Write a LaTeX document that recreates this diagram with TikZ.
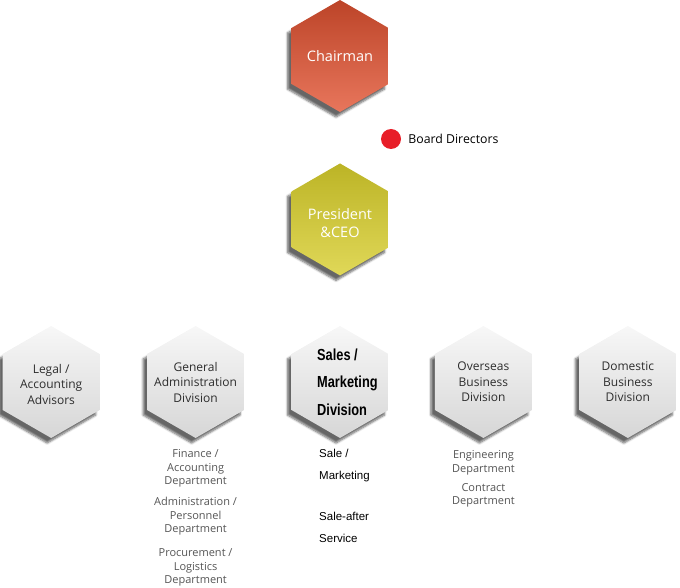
\documentclass[tikz,border=0pt]{standalone}
\usepackage{fontspec}
\setmainfont{Open Sans}
\newfontfamily\salesfont[FakeStretch=0.8]{Liberation Sans}
\newfontfamily\arialfont{Liberation Sans}
\usetikzlibrary{shapes.geometric, positioning, shadows.blur}
\definecolor{chairtop}{RGB}{188,68,40}
\definecolor{chairbot}{RGB}{232,118,92}
\definecolor{prestop}{RGB}{188,180,38}
\definecolor{presbot}{RGB}{224,216,88}
\definecolor{boardred}{RGB}{232,30,40}
\definecolor{hextext}{RGB}{45,45,45}
\definecolor{subgray}{RGB}{85,85,85}
\tikzset{
	hexa/.style={regular polygon, regular polygon sides=6, shape border rotate=30, % pointy top hexagon
		minimum size=112pt, inner sep=0pt,
		blur shadow={shadow xshift=-4pt, shadow yshift=-5pt, shadow blur steps=6, shadow opacity=60}},
	top hexa/.style={hexa}, % the two upper tiles
	top label/.style={align=center, text=white, font=\fontsize{14.5}{18}\selectfont},
	division/.style={hexa, top color=gray!6, bottom color=gray!32}, % sets the properties of each division tile
	division label/.style={align=center, text=hextext, font=\fontsize{12}{15.5}\selectfont},
	subtext/.style={align=center, inner sep=0pt, text=subgray, font=\fontsize{11}{13.5}\selectfont}, % departments under a division
	salestext/.style={align=left, inner sep=0pt, font=\arialfont\fontsize{11.5}{22}\selectfont},
}
\begin{document}
\begin{tikzpicture}[x=1pt, y=-1pt]
	\useasboundingbox (0,0) rectangle (680,588);
	% The top of the chart
	\node[top hexa, top color=chairtop, bottom color=chairbot,
		label={[top label]center:Chairman}] (Chairman) at (340,56) {};
	\node[circle, fill=boardred, minimum size=20pt, inner sep=0pt] (Board) at (391,139) {};
	\node[right=7pt of Board, inner sep=0pt, font=\fontsize{12.3}{14}\selectfont] (BoardText) {Board Directors};
	\node[top hexa, top color=prestop, bottom color=presbot, below=51pt of Chairman,
		label={[top label, yshift=-4pt]center:President\\\&CEO}] (President) {};

	%% the row of divisions
	\node[division] (Sales) at (340,382) {};
	\node[anchor=west, align=left, inner sep=0pt, font=\salesfont\bfseries\fontsize{16}{27.5}\selectfont]
		(SalesText) at ([xshift=-23pt]Sales.center) {Sales /\\Marketing\\Division};
	\node[division, left=47pt of Sales,
		label={[division label]center:General\\Administration\\Division}] (GeneralAdmin) {};
	\node[division, left=47pt of GeneralAdmin,
		label={[division label, yshift=-2pt]center:Legal /\\Accounting\\Advisors}] (Legal) {};
	\node[division, right=46pt of Sales,
		label={[division label]center:Overseas\\Business\\Division}] (Overseas) {};
	\node[division, right=47pt of Overseas,
		label={[division label]center:Domestic\\Business\\Division}] (Domestic) {};

	%% departments below
	\node[subtext, below=11pt of GeneralAdmin] (Finance) {Finance /\\Accounting\\Department};
	\node[subtext, below=10pt of Finance] (Personnel) {Administration /\\Personnel\\Department};
	\node[subtext, below=13pt of Personnel] (Procurement) {Procurement /\\Logistics\\Department};
	\node[salestext, below right=11pt and -21pt of Sales.south] (SaleMarketing) {Sale /\\Marketing};
	\node[salestext, below right=30pt and 0pt of SaleMarketing.south west] (AfterService) {Sale-after\\Service};
	\node[subtext, below=12pt of Overseas] (Engineering) {Engineering\\Department};
	\node[subtext, below=8pt of Engineering] (Contract) {Contract\\Department};
\end{tikzpicture}
\end{document}
